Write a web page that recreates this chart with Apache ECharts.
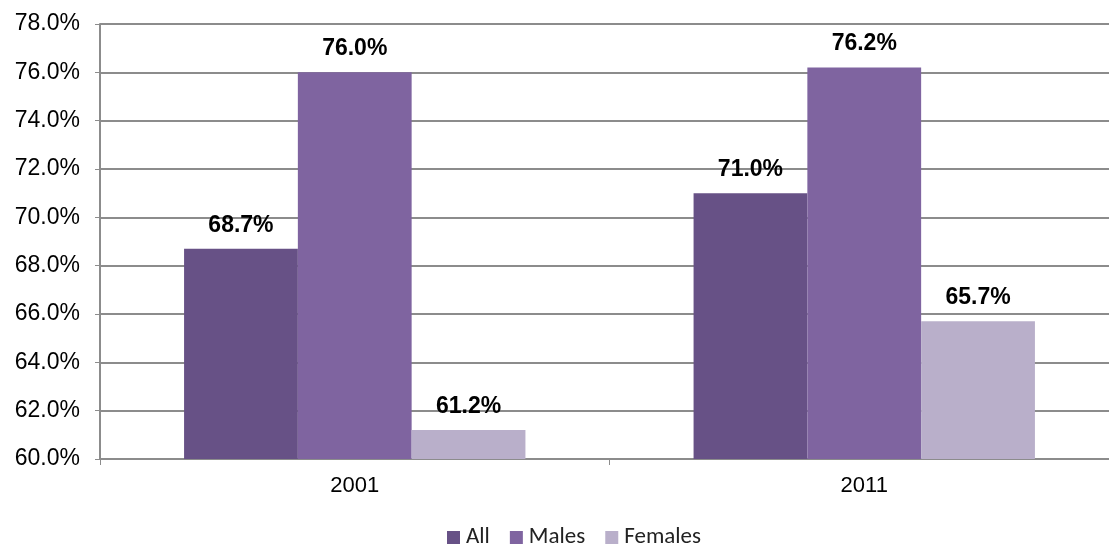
<!DOCTYPE html>
<html><head><meta charset="utf-8">
<script src="https://cdn.jsdelivr.net/npm/echarts@6/dist/echarts.min.js"></script>
<style>html,body{margin:0;padding:0;background:#fff;overflow:hidden;width:1109px;height:544px}#c{width:1119px;height:544px}</style>
</head><body><div id="c"></div>
<script>
const categories = ['2001', '2011'];
const seriesNames = ['All', 'Males', 'Females'];
const allValues = [68.7, 71.0];
const maleValues = [76.0, 76.2];
const femaleValues = [61.2, 65.7];
const colors = ['#675186', '#7f64a0', '#b9afca'];

const chart = echarts.init(document.getElementById('c'));
const FF = '"Liberation Sans", Arial, sans-serif';
const labelStyle = {show: true, position: 'top', formatter: p => p.value.toFixed(1) + '%',
  fontFamily: FF, fontWeight: 'bold', fontSize: 23, color: '#000', distance: 12};
const vals = [allValues, maleValues, femaleValues];
chart.setOption({
  animation: false,
  grid: {left: 100, right: 0, top: 24, bottom: 85},
  legend: {top: 526, left: 447, padding: 0, itemWidth: 13, itemHeight: 13, itemGap: 20,
    textStyle: {fontFamily: 'Carlito, Lato, sans-serif', fontSize: 23, color: '#222', padding: [0, 0, 0, 1]},
    icon: 'rect', data: seriesNames},
  xAxis: {type: 'category', data: categories,
    axisLine: {lineStyle: {color: '#8c8c8c', width: 2}},
    axisTick: {show: true, length: 6, lineStyle: {color: '#8c8c8c'}},
    axisLabel: {fontFamily: FF, fontSize: 22, color: '#000', margin: 16}},
  yAxis: {type: 'value', min: 60, max: 78, interval: 2,
    axisLine: {show: true, lineStyle: {color: '#8c8c8c', width: 2}},
    axisTick: {show: true, length: 5, lineStyle: {color: '#8c8c8c'}},
    splitLine: {lineStyle: {color: '#8c8c8c', width: 2}},
    axisLabel: {formatter: v => v.toFixed(1) + '%', fontFamily: FF, fontSize: 23, color: '#000', margin: 20}},
  series: seriesNames.map((n, i) => ({
    name: n, type: 'bar', data: vals[i], barGap: '0%', barCategoryGap: '33%',
    itemStyle: {color: colors[i]}, label: labelStyle
  }))
});
</script></body></html>
